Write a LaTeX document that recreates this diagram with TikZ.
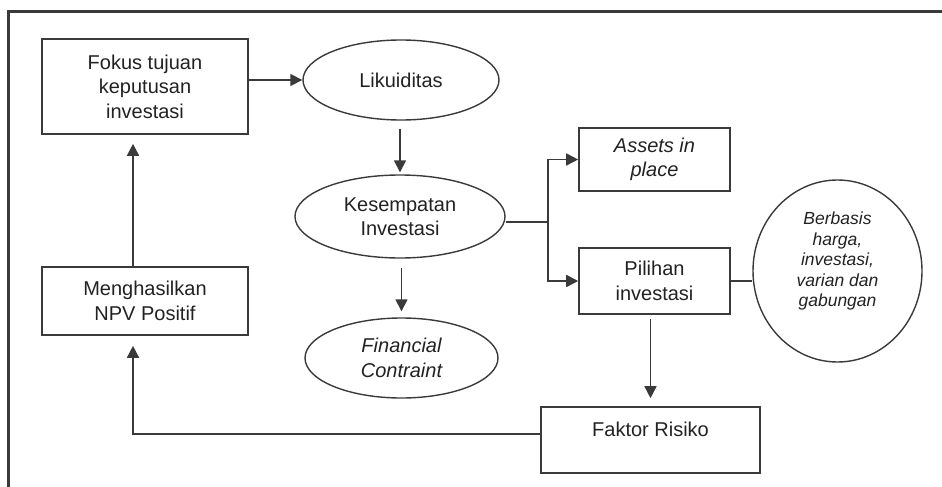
\documentclass[tikz,border=0pt]{standalone}
\usepackage{fontspec}
\setmainfont{Liberation Sans}
\usetikzlibrary{arrows.meta,shapes.geometric}

\definecolor{ink}{HTML}{222222}
\definecolor{edge}{HTML}{3A3A3A}

\tikzset{
  every node/.style={font=\fontsize{20}{24.5}\selectfont, text=ink, align=center},
  boxnode/.style={draw=edge, line width=1.6pt, rectangle, inner sep=0pt},
  ovalnode/.style={draw=edge, line width=1.4pt, ellipse, inner sep=0pt},
  link/.style={draw=edge, line width=1.6pt},
  arr/.style={link, -{Triangle[length=12pt,width=12pt]}},
  frameline/.style={draw=edge, line width=3pt}
}

\begin{document}
\begin{tikzpicture}[x=1pt, y=-1pt]
\useasboundingbox (0,0) rectangle (942,487);

% enclosing frame (top and left sides)
\draw[frameline] (8,487) -- (8,11.5) -- (942,11.5);

% boxes
\node[boxnode, minimum width=206pt, minimum height=95pt] (fokus) at (145,86.5)
  {Fokus tujuan\\keputusan\\investasi};
\node[boxnode, minimum width=206pt, minimum height=68pt] (mengh) at (145,301)
  {Menghasilkan\\NPV Positif};
\node[boxnode, minimum width=151pt, minimum height=63pt] (assets) at (654.5,159.5)
  {\itshape Assets in\\\itshape place};
\node[boxnode, minimum width=151pt, minimum height=66pt] (pil) at (654.5,281)
  {Pilihan\\investasi};
\node[boxnode, minimum width=219pt, inner ysep=0pt, text height=29pt, text depth=37pt] (faktor) at (650.5,440)
  {Faktor Risiko};

% ellipses
\node[ovalnode, minimum width=196pt, minimum height=80pt] (liq) at (401,80) {Likuiditas};
\node[ovalnode, minimum width=210pt, minimum height=83pt] (kes) at (400,216.5)
  {Kesempatan\\Investasi};
\node[ovalnode, minimum width=193pt, minimum height=80pt] (fin) at (401.5,358)
  {\itshape Financial\\\itshape Contraint};
\node[ovalnode, minimum width=169pt, minimum height=182pt] (circ) at (837.5,271) {};
\node[font=\fontsize{17.5}{20.5}\selectfont\itshape] (circtext) at (837.5,261)
  {Berbasis\\harga,\\investasi,\\varian dan\\gabungan};

% connectors
\coordinate (split) at (548,222);
\coordinate (loop) at (133,434);

\draw[arr] (fokus.east |- liq.west) -- (liq.west);
\draw[arr, shorten <=8pt, shorten >=2pt] (liq.south -| kes.north) -- (kes.north);
\draw[arr, shorten <=9pt, shorten >=6pt] (kes.south -| fin.north) -- (fin.north);
\draw[link] (kes.east |- split) -- (split);
\draw[arr] (split) |- (assets.west);
\draw[arr] (split) |- (pil.west);
\draw[link] (pil.east) -- (pil.east -| circ.west);
\draw[arr, shorten <=4pt, shorten >=8pt] (pil.south -| faktor.north) -- (faktor.north);
\draw[arr, shorten >=10pt] (faktor.west |- loop) -- (loop) -- (mengh.south -| loop);
\draw[arr, shorten >=9pt] (mengh.north -| loop) -- (fokus.south -| loop);
\end{tikzpicture}
\end{document}
